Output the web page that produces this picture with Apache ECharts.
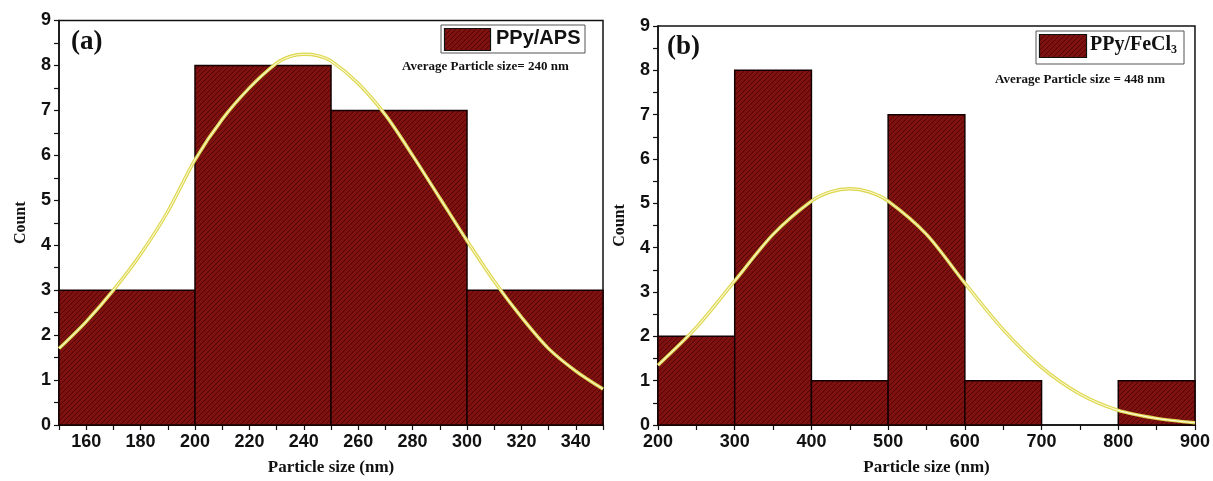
<!DOCTYPE html>
<html>
<head>
<meta charset="utf-8">
<script src="https://cdn.jsdelivr.net/npm/echarts@6/dist/echarts.min.js"></script>
<style>
html,body{margin:0;padding:0;background:#fff;}
#c{width:1213px;height:481px;}
</style>
</head>
<body>
<div id="c"></div>
<script>
// ---------- data ----------
// Panel (a) PPy/APS histogram
const binEdgesA = [150, 200, 250, 300, 350];
const countsA = [3, 8, 7, 3];
// fitted normal curve
const curveXA = [150, 160, 170, 180, 190, 200, 210, 220, 230, 235, 240, 245, 250, 260, 270, 280, 290, 300, 310, 320, 330, 340, 350];
const curveYA = [1.7, 2.3, 3.0, 3.8, 4.75, 5.9, 6.8, 7.5, 8.05, 8.2, 8.25, 8.22, 8.1, 7.6, 6.9, 6.0, 5.05, 4.1, 3.2, 2.4, 1.7, 1.2, 0.8];
// Panel (b) PPy/FeCl3 histogram
const binEdgesB = [200, 300, 400, 500, 600, 700, 800, 900];
const countsB = [2, 8, 1, 7, 1, 0, 1];
const curveXB = [200, 250, 300, 350, 400, 425, 450, 475, 500, 550, 600, 650, 700, 750, 800, 850, 900];
const curveYB = [1.35, 2.2, 3.25, 4.3, 5.05, 5.26, 5.33, 5.26, 5.05, 4.3, 3.2, 2.15, 1.3, 0.7, 0.33, 0.15, 0.05];
// text
const legendA = 'PPy/APS';
const legendB = 'PPy/FeCl';
const avgA = 'Average Particle size= 240 nm';
const avgB = 'Average Particle size = 448 nm';
const yTitle = 'Count';
const xTitle = 'Particle size (nm)';

// ---------- hatch pattern ----------
function makePattern() {
  const s = 5;
  const cv = document.createElement('canvas');
  cv.width = s; cv.height = s;
  const ctx = cv.getContext('2d');
  ctx.fillStyle = '#7f1111';
  ctx.fillRect(0, 0, s, s);
  ctx.strokeStyle = '#520505';
  ctx.lineWidth = 1.0;
  ctx.beginPath();
  ctx.moveTo(0, s); ctx.lineTo(s, 0);
  ctx.moveTo(-s/2, s/2); ctx.lineTo(s/2, -s/2);
  ctx.moveTo(s/2, s*1.5); ctx.lineTo(s*1.5, s/2);
  ctx.stroke();
  return {image: cv, repeat: 'repeat'};
}
const hatch = makePattern();

function bins(edges, counts) {
  return counts.map((c, i) => [edges[i], edges[i + 1], c]);
}
function pairs(xs, ys) { return xs.map((x, i) => [x, ys[i]]); }

function renderBar(params, api) {
  const c = api.value(2);
  if (!c) return null;
  const p0 = api.coord([api.value(0), c]);
  const p1 = api.coord([api.value(1), 0]);
  return {
    type: 'rect',
    shape: {x: p0[0], y: p0[1], width: p1[0] - p0[0], height: p1[1] - p0[1]},
    style: {fill: hatch, stroke: '#140000', lineWidth: 1.5}
  };
}

const sansTick = {fontFamily: 'Liberation Sans, Arial', fontWeight: 'bold', fontSize: 18, color: '#111'};
const serifTitle = {fontFamily: 'Liberation Serif, Times New Roman', fontWeight: 'bold', fontSize: 17, color: '#111'};

function xAxisCfg(idx, min, max, interval, labelStep) {
  return {
    type: 'value', gridIndex: idx, min: min, max: max, interval: interval,
    name: xTitle, nameLocation: 'middle', nameGap: 34, nameTextStyle: serifTitle,
    axisLine: {show: true, lineStyle: {color: '#111', width: 1.5}},
    axisTick: {show: true, length: 5, lineStyle: {color: '#111', width: 1.2}},
    axisLabel: Object.assign({margin: 8, formatter: function (v) {
      const r = Math.round(v);
      if (r % labelStep !== 0) return '';
      if (labelStep === 20 && r === min) return '';
      return String(r);
    }}, sansTick),
    splitLine: {show: false}
  };
}
function yAxisCfg(idx) {
  return {
    type: 'value', gridIndex: idx, min: 0, max: 9, interval: 0.5,
    name: yTitle, nameLocation: 'middle', nameGap: 30, nameRotate: 90,
    nameTextStyle: Object.assign({}, serifTitle, {fontSize: 16}),
    axisLine: {show: true, lineStyle: {color: '#111', width: 1.5}},
    axisTick: {show: true, length: 5, lineStyle: {color: '#111', width: 1.2}},
    axisLabel: Object.assign({margin: 8, formatter: v => Number.isInteger(v) ? String(v) : ''}, sansTick),
    splitLine: {show: false}
  };
}

function curveSeries(idx, data) {
  return [
    {type: 'line', xAxisIndex: idx, yAxisIndex: idx, data: data, smooth: 0.3, symbol: 'none', z: 5,
      lineStyle: {color: '#dcd74e', width: 3.4}},
    {type: 'line', xAxisIndex: idx, yAxisIndex: idx, data: data, smooth: 0.3, symbol: 'none', z: 6,
      lineStyle: {color: '#fcf8d2', width: 1.1}}
  ];
}

const chart = echarts.init(document.getElementById('c'), null, {renderer: 'canvas'});
chart.setOption({
  animation: false,
  backgroundColor: '#fff',
  grid: [
    {left: 59, top: 20.5, width: 544, height: 405, show: true, borderColor: '#111', borderWidth: 1.5, backgroundColor: 'transparent'},
    {left: 658, top: 26, width: 538, height: 399, show: true, borderColor: '#111', borderWidth: 1.5, backgroundColor: 'transparent'}
  ],
  xAxis: [xAxisCfg(0, 150, 350, 10, 20), xAxisCfg(1, 200, 900, 50, 100)],
  yAxis: [yAxisCfg(0), yAxisCfg(1)],
  series: [
    {type: 'custom', xAxisIndex: 0, yAxisIndex: 0, renderItem: renderBar, data: bins(binEdgesA, countsA),
      encode: {x: [0, 1], y: 2}, z: 2},
    {type: 'custom', xAxisIndex: 1, yAxisIndex: 1, renderItem: renderBar, data: bins(binEdgesB, countsB),
      encode: {x: [0, 1], y: 2}, z: 2},
    ...curveSeries(0, pairs(curveXA, curveYA)),
    ...curveSeries(1, pairs(curveXB, curveYB))
  ],
  graphic: [
    // panel labels
    {type: 'text', left: 71, top: 29, z: 20, style: {text: '(a)', font: 'bold 27px "Liberation Serif", serif', fill: '#111'}},
    {type: 'text', left: 667, top: 34, z: 20, style: {text: '(b)', font: 'bold 27px "Liberation Serif", serif', fill: '#111'}},
    // legend a
    {type: 'rect', z: 20, shape: {x: 441, y: 25, width: 144, height: 28}, style: {fill: '#fff', stroke: '#555', lineWidth: 1}},
    {type: 'rect', z: 21, shape: {x: 444.5, y: 28.5, width: 46, height: 22}, style: {fill: hatch, stroke: '#111', lineWidth: 1.2}},
    {type: 'text', z: 21, left: 496, top: 28, style: {text: legendA, font: 'bold 20px "Liberation Sans", Arial', fill: '#111'}},
    {type: 'text', z: 21, left: 402, top: 60, style: {text: avgA, font: 'bold 13px "Liberation Serif", serif', fill: '#111'}},
    // legend b
    {type: 'rect', z: 20, shape: {x: 1036, y: 31, width: 148, height: 33}, style: {fill: '#fff', stroke: '#555', lineWidth: 1}},
    {type: 'rect', z: 21, shape: {x: 1039.5, y: 34.5, width: 47, height: 23}, style: {fill: hatch, stroke: '#111', lineWidth: 1.2}},
    {type: 'text', z: 21, left: 1090, top: 35, style: {
      text: '{m|' + legendB + '}{s|3}',
      rich: {
        m: {font: 'bold 20px "Liberation Serif", serif', fill: '#111'},
        s: {font: 'bold 12px "Liberation Serif", serif', fill: '#111', padding: [10, 0, 0, 0]}
      }}},
    {type: 'text', z: 21, left: 995, top: 73, style: {text: avgB, font: 'bold 13px "Liberation Serif", serif', fill: '#111'}}
  ]
});
</script>
</body>
</html>
